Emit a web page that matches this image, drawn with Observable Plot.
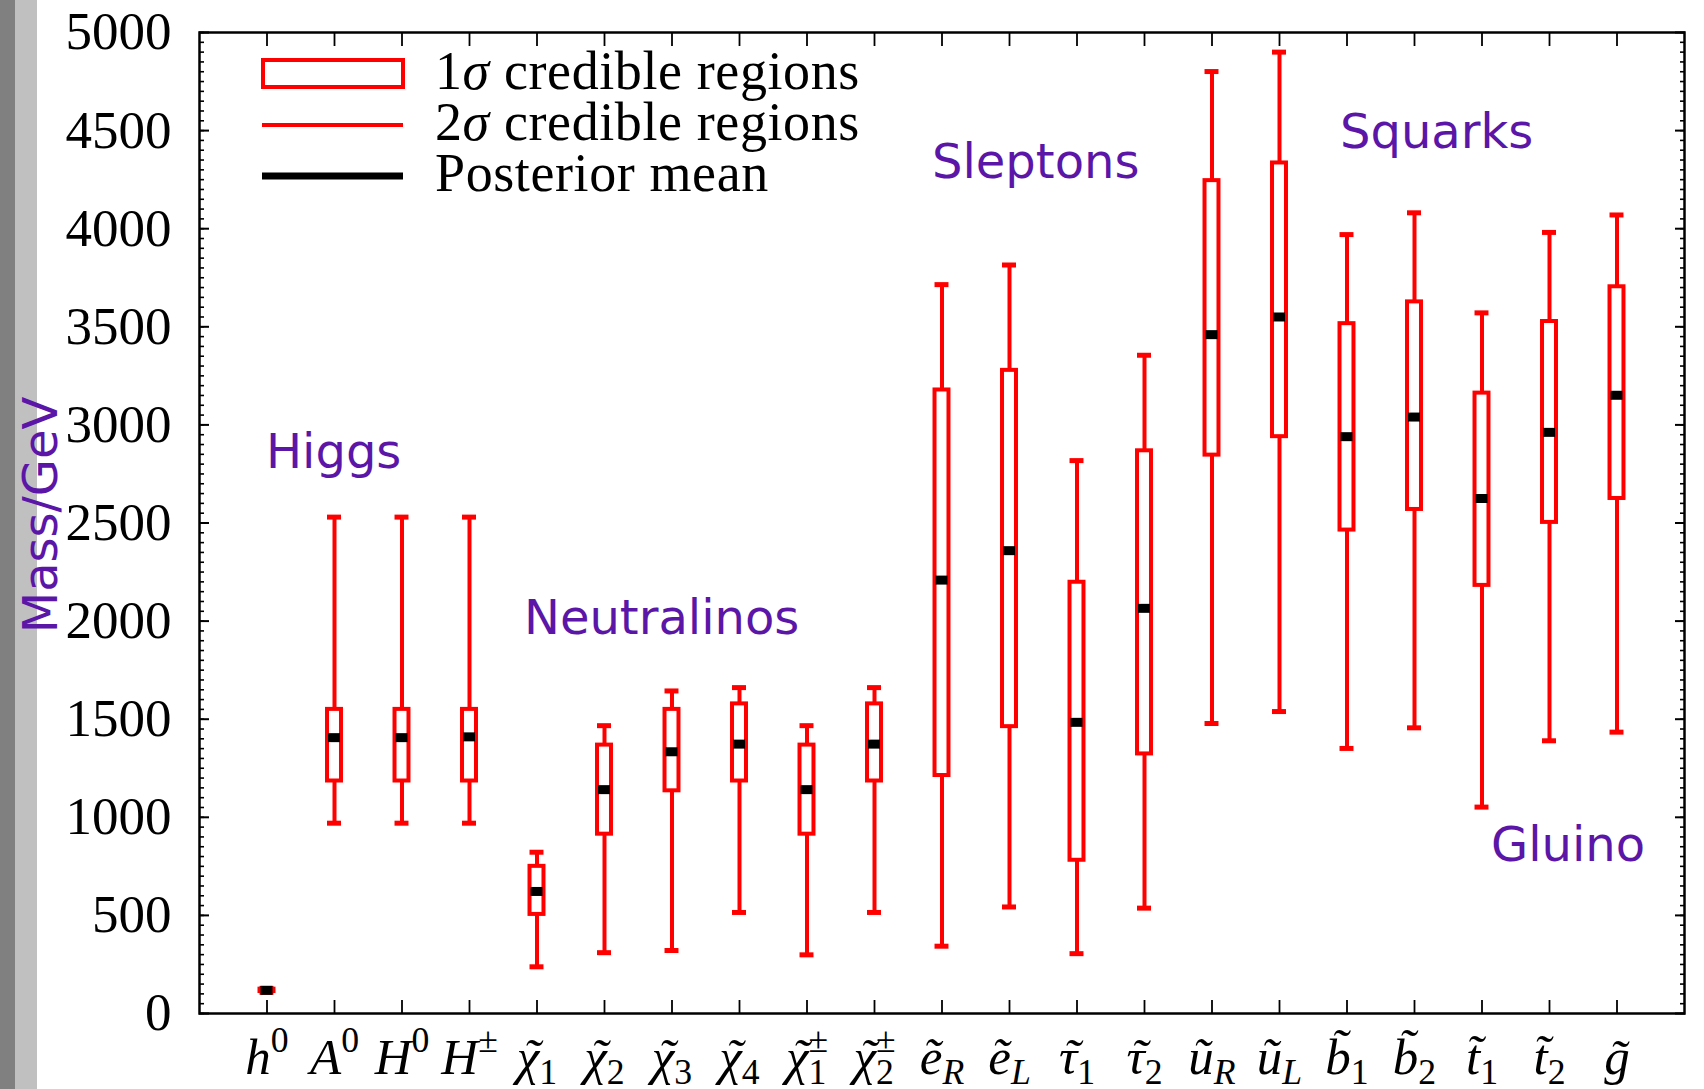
<!DOCTYPE html>
<html><head><meta charset="utf-8">
<script src="https://cdn.jsdelivr.net/npm/d3@7"></script>
<script src="https://cdn.jsdelivr.net/npm/@observablehq/plot@0.6"></script>
<style>html,body{margin:0;padding:0;background:#fff;overflow:hidden;} #chart{position:relative;width:1704px;height:1089px;}</style>
</head><body><div id="chart"></div>
<script>
// ---- data ----
const particles = ["h0","A0","H0","H±","χ1","χ2","χ3","χ4","χ1±","χ2±","eR","eL","τ1","τ2","uR","uL","b1","b2","t1","t2","g"];
const lo2  = [108, 970, 970, 970, 238, 310, 321, 515, 299, 515, 343, 543, 305, 537, 1478, 1539, 1351, 1456, 1052, 1390, 1434];
const lo1  = [112, 1185, 1185, 1185, 505, 914, 1135, 1185, 914, 1185, 1213, 1462, 781, 1323, 2846, 2940, 2464, 2569, 2182, 2503, 2625];
const mean = [118, 1406, 1406, 1410, 622, 1141, 1334, 1373, 1141, 1373, 2209, 2359, 1484, 2065, 3460, 3550, 2940, 3040, 2625, 2962, 3151];
const hi1  = [124, 1550, 1550, 1550, 750, 1368, 1550, 1578, 1368, 1578, 3178, 3278, 2198, 2868, 4245, 4335, 3516, 3627, 3162, 3527, 3704];
const hi2  = [128, 2530, 2530, 2530, 822, 1467, 1644, 1661, 1467, 1661, 3715, 3815, 2818, 3355, 4801, 4900, 3970, 4081, 3571, 3981, 4070];

// tick label pieces
const labelBase  = ["h","A","H","H","χ","χ","χ","χ","χ","χ","e","e","τ","τ","u","u","b","b","t","t","g"];
const labelTilde = [0,0,0,0,1,1,1,1,1,1,1,1,1,1,1,1,1,1,1,1,1];
const labelSup   = ["0","0","0","±","","","","","±","±","","","","","","","","","","",""];
const labelSub   = ["","","","","1","2","3","4","1","2","R","L","1","2","R","L","1","2","1","2",""];

const yTicksMajor = [0,500,1000,1500,2000,2500,3000,3500,4000,4500,5000];

// group annotations
const groupNames = ["Higgs","Neutralinos","Sleptons","Squarks","Gluino"];
const groupAt    = ["h0","χ1","eR","b1","t1"];
const groupMass  = [2860, 2015, 4335, 4490, 858];

const legendLabels = ["1σ credible regions","2σ credible regions","Posterior mean"];

// ---- build ----
const rows = particles.map((p, i) => ({p, lo2: lo2[i], lo1: lo1[i], mean: mean[i], hi1: hi1[i], hi2: hi2[i]}));
const groups = groupNames.map((name, i) => ({name, at: groupAt[i], m: groupMass[i]}));
const groupDx = {Higgs: -1, Neutralinos: -13, Sleptons: -10, Squarks: -7, Gluino: 9};

const RED = "#ff0000", PURPLE = "#5b16a8";
const SERIF = "Liberation Serif, Times New Roman, serif";
const SANS = "DejaVu Sans, sans-serif";
const minorTicks = d3.range(0, 5001, 50);

const plot = Plot.plot({
  width: 1704, height: 1089,
  marginLeft: 199, marginRight: 20, marginTop: 32, marginBottom: 76,
  x: {type: "band", domain: particles, paddingInner: 0.793, paddingOuter: 0.8965, align: 0.5, round: false, label: null},
  y: {domain: [0, 5000], label: null},
  style: {fontFamily: SERIF, color: "black", background: "white", overflow: "visible"},
  marks: [
    // 2σ whiskers
    Plot.ruleX(rows, {x: "p", y1: "lo2", y2: "hi2", stroke: RED, strokeWidth: 4}),
    Plot.tickY(rows, {x: "p", y: "lo2", stroke: RED, strokeWidth: 5}),
    Plot.tickY(rows, {x: "p", y: "hi2", stroke: RED, strokeWidth: 5}),
    // 1σ boxes
    Plot.barY(rows, {x: "p", y1: "lo1", y2: "hi1", fill: "white", stroke: RED, strokeWidth: 4}),
    // posterior mean
    Plot.tickY(rows, {x: "p", y: "mean", stroke: "black", strokeWidth: 9, insetLeft: 1, insetRight: 1}),
    // frame and axes
    Plot.frame({stroke: "black", strokeWidth: 2.5}),
    Plot.axisY({anchor: "left", ticks: minorTicks, tickSize: -5, tickFormat: () => "", strokeWidth: 1.6, label: null}),
    Plot.axisY({anchor: "left", ticks: yTicksMajor, tickSize: -10, tickFormat: () => "", strokeWidth: 2, label: null}),
    Plot.axisY({anchor: "right", ticks: minorTicks, tickSize: -5, tickFormat: () => "", strokeWidth: 1.6, label: null}),
    Plot.axisY({anchor: "right", ticks: yTicksMajor, tickSize: -10, tickFormat: () => "", strokeWidth: 2, label: null}),
    Plot.axisY({anchor: "left", ticks: yTicksMajor, tickSize: 0, tickPadding: 28, fontSize: 53, fontFamily: SERIF,
      tickFormat: d => String(d), label: null}),
    Plot.axisX({anchor: "top", tickSize: -13, tickFormat: () => "", strokeWidth: 1.8, label: null}),
    Plot.axisX({anchor: "bottom", tickSize: -13, tickFormat: () => "", strokeWidth: 1.8, label: null}),
    Plot.axisX({anchor: "bottom", tickSize: 0, tickPadding: 24, fontSize: 51, fontFamily: SERIF, tickFormat: d => d, label: null}),
    // group annotations
    ...groups.map(g => Plot.text([g], {x: "at", y: "m", text: "name", textAnchor: "start", lineAnchor: "middle",
      dx: groupDx[g.name], fill: PURPLE, fontFamily: SANS, fontSize: 48})),
    // y label
    Plot.text(["Mass/GeV"], {frameAnchor: "left", dx: -158, dy: -8, rotate: -90, text: d => d,
      fill: PURPLE, fontFamily: SANS, fontSize: 48, textAnchor: "middle", lineAnchor: "middle"})
  ]
});

document.getElementById("chart").appendChild(plot);
const svg = d3.select(plot);

// left grey bands (page decoration)
svg.insert("rect", ":first-child").attr("x", 15).attr("y", 0).attr("width", 22).attr("height", 1089).attr("fill", "#c0c0c0");
svg.insert("rect", ":first-child").attr("x", 0).attr("y", 0).attr("width", 15).attr("height", 1089).attr("fill", "#808080");

// rich tick labels
svg.selectAll('g[aria-label="x-axis tick label"] text').each(function () {
  const key = this.textContent;
  const i = particles.indexOf(key);
  if (i < 0) return;
  const t = d3.select(this);
  t.text(null);
  const greek = /[α-ω]/.test(labelBase[i]);
  let carryDx = 0;
  if (labelTilde[i] && greek) {
    const b = t.append("tspan").attr("font-style", "italic").text(labelBase[i]);
    const w = b.node().getComputedTextLength();
    const tl = t.append("tspan").attr("font-style", "italic").text("\u02DC");
    const tw = tl.node().getComputedTextLength();
    const shift = 0.07 * 51;
    tl.attr("dx", -(w / 2 + tw / 2) + shift);
    carryDx = (w / 2 - tw / 2) - shift;
  } else {
    t.append("tspan").attr("font-style", "italic").text(labelBase[i] + (labelTilde[i] ? "\u0303" : ""));
  }
  let cur = 0;
  const sub = labelSub[i], sup = labelSup[i];
  if (sub) {
    const s = t.append("tspan").attr("font-size", "0.7em").attr("dy", "0.28em")
      .attr("font-style", /[A-Z]/.test(sub) ? "italic" : "normal").text(sub);
    if (carryDx) s.attr("dx", carryDx);
    cur = 0.28;
  }
  if (sup) {
    const ts = t.append("tspan").attr("font-size", "0.7em").attr("dy", (-0.6 - cur) + "em").attr("font-style", "normal").text(sup);
    if (sub) ts.attr("dx", "-0.5em");
  }
});

// legend
const lg = svg.append("g").attr("font-family", SERIF).attr("font-size", 54).attr("text-anchor", "start");
lg.append("rect").attr("x", 263).attr("y", 60).attr("width", 140).attr("height", 27)
  .attr("fill", "none").attr("stroke", RED).attr("stroke-width", 4);
lg.append("line").attr("x1", 262).attr("x2", 403).attr("y1", 125).attr("y2", 125).attr("stroke", RED).attr("stroke-width", 4);
lg.append("line").attr("x1", 262).attr("x2", 403).attr("y1", 176).attr("y2", 176).attr("stroke", "black").attr("stroke-width", 7);
const centers = [73, 124, 175];
legendLabels.forEach((lab, i) => {
  const t = lg.append("text").attr("x", 435).attr("y", centers[i]).attr("dy", "0.3em").attr("text-anchor", "start")
    .attr("letter-spacing", 0.6);
  const m = lab.match(/^(\d)σ(.*)$/);
  if (m) {
    t.append("tspan").text(m[1]);
    t.append("tspan").attr("font-style", "italic").text("σ");
    t.append("tspan").text(m[2]);
  } else t.text(lab);
});
</script></body></html>
